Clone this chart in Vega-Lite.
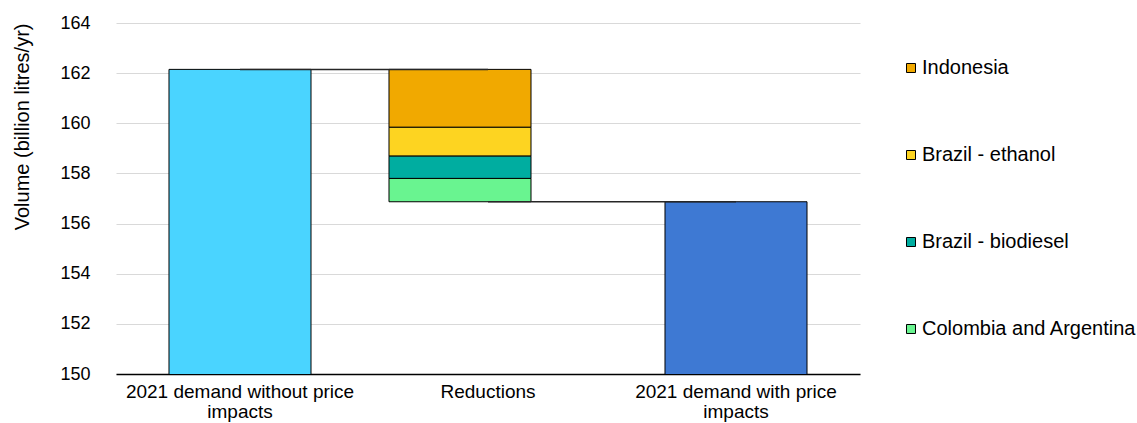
{
  "$schema": "https://vega.github.io/schema/vega-lite/v6.json",
  "width": 744,
  "height": 351,
  "autosize": {"type": "none"},
  "padding": {"left": 116, "top": 23, "right": 277, "bottom": 49},
  "background": "white",
  "config": {
    "font": "Liberation Sans",
    "view": {"stroke": null},
    "axis": {"labelColor": "#000000", "titleColor": "#000000"}
  },
  "encoding": {
    "x": {
      "field": "category",
      "type": "nominal",
      "sort": ["2021 demand without price impacts", "Reductions", "2021 demand with price impacts"],
      "scale": {"domain": ["2021 demand without price impacts", "Reductions", "2021 demand with price impacts"], "paddingInner": 0, "paddingOuter": 0},
      "axis": {
        "title": null,
        "labelAngle": 0,
        "labelFontSize": 19,
        "labelLimit": 0,
        "labelPadding": 8,
        "labelLineHeight": 20,
        "labelExpr": "indexof(datum.label, ' impacts') > 0 ? [slice(datum.label, 0, indexof(datum.label, ' impacts')), 'impacts'] : datum.label",
        "ticks": false,
        "domainColor": "#000000",
        "domainWidth": 1.5
      }
    }
  },
  "layer": [
    {
      "data": {"values": [
        {"category": "2021 demand without price impacts", "value": 162.15}
      ]},
      "mark": {"type": "bar", "width": {"band": 0.5726}, "color": "#4AD4FF", "stroke": "#000000", "strokeWidth": 1, "clip": true},
      "encoding": {
        "y": {
          "field": "value",
          "type": "quantitative",
          "scale": {"domain": [150, 164], "zero": false, "nice": false},
          "axis": {
            "title": "Volume (billion litres/yr)",
            "titleFontSize": 20,
            "titleFontWeight": "normal",
            "titleAnchor": "end",
            "titlePadding": 27,
            "values": [150, 152, 154, 156, 158, 160, 162, 164],
            "labelFontSize": 18,
            "labelPadding": 26,
            "ticks": false,
            "domain": false,
            "grid": true,
            "gridColor": "#d9d9d9",
            "gridWidth": 1
          }
        }
      }
    },
    {
      "data": {"values": [
        {"category": "2021 demand with price impacts", "value": 156.87}
      ]},
      "mark": {"type": "bar", "width": {"band": 0.5726}, "color": "#3E79D3", "stroke": "#000000", "strokeWidth": 1, "clip": true},
      "encoding": {
        "y": {"field": "value", "type": "quantitative"}
      }
    },
    {
      "data": {"values": [
        {"category": "Reductions", "source": "Indonesia", "top": 162.15, "bottom": 159.84},
        {"category": "Reductions", "source": "Brazil - ethanol", "top": 159.84, "bottom": 158.69},
        {"category": "Reductions", "source": "Brazil - biodiesel", "top": 158.69, "bottom": 157.8},
        {"category": "Reductions", "source": "Colombia and Argentina", "top": 157.8, "bottom": 156.87}
      ]},
      "mark": {"type": "bar", "width": {"band": 0.5726}, "xOffset": -28, "stroke": "#000000", "strokeWidth": 1},
      "encoding": {
        "y": {"field": "top", "type": "quantitative"},
        "y2": {"field": "bottom"},
        "color": {
          "field": "source",
          "type": "nominal",
          "scale": {
            "domain": ["Indonesia", "Brazil - ethanol", "Brazil - biodiesel", "Colombia and Argentina"],
            "range": ["#F1A900", "#FDD421", "#00ADA0", "#69F490"]
          },
          "legend": {
            "title": null,
            "orient": "none",
            "legendX": 785,
            "legendY": 35,
            "padding": 0,
            "symbolType": "square",
            "symbolSize": 81,
            "symbolStrokeColor": "#000000",
            "symbolStrokeWidth": 1,
            "labelFontSize": 20,
            "labelLimit": 0,
            "labelColor": "#000000",
            "labelOffset": 1,
            "rowPadding": 67
          }
        }
      }
    },
    {
      "data": {"values": [
        {"category": "2021 demand without price impacts", "level": 162.15, "connector": "start"},
        {"category": "Reductions", "level": 162.15, "connector": "start"},
        {"category": "Reductions", "level": 156.87, "connector": "end"},
        {"category": "2021 demand with price impacts", "level": 156.87, "connector": "end"}
      ]},
      "mark": {"type": "line", "color": "#262626", "strokeWidth": 1.5},
      "encoding": {
        "y": {"field": "level", "type": "quantitative"},
        "detail": {"field": "connector"}
      }
    }
  ]
}
